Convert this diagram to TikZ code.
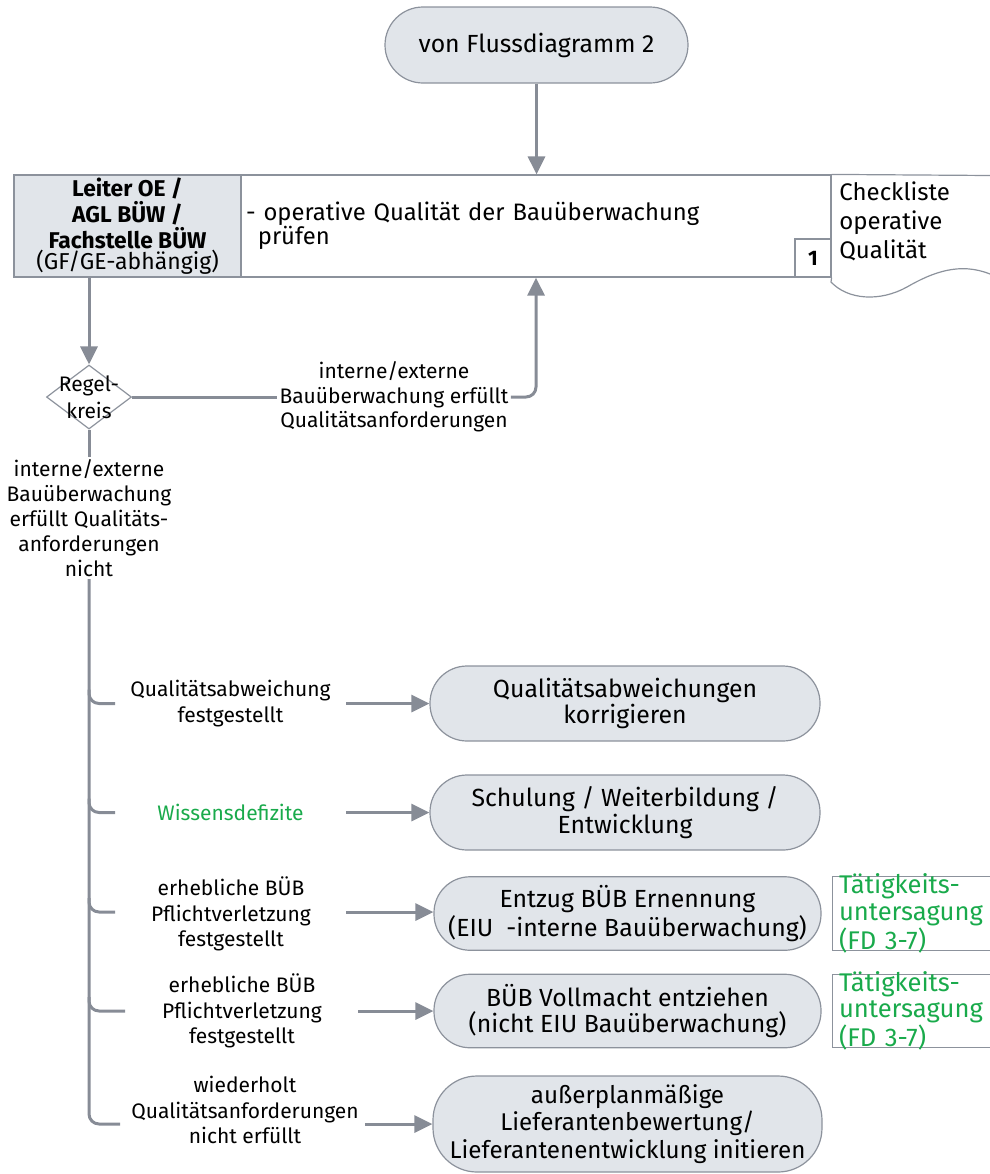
\documentclass[tikz,border=0pt]{standalone}
\usepackage{fontspec}
\setmainfont{Fira Sans}
\usetikzlibrary{arrows.meta,shapes.geometric,calc}
\definecolor{boxfill}{RGB}{225,229,234}
\definecolor{boxline}{RGB}{140,146,156}
\definecolor{conncol}{RGB}{135,140,150}
\definecolor{dbgreen}{RGB}{25,170,75}
\begin{document}
\begin{tikzpicture}[x=0.5pt,y=-0.5pt,
  conn/.style={draw=conncol,line width=1.5pt},
  arr/.style={conn,-{Triangle[length=9pt,width=8.5pt]}},
  pill/.style={draw=boxline,fill=boxfill,line width=0.6pt,align=center,inner sep=2pt},
  boxA/.style={pill,minimum width=195pt,minimum height=37.5pt,rounded corners=18.5pt,font=\fontsize{12.4}{13.2}\selectfont},
  boxB/.style={pill,minimum width=193.5pt,minimum height=36.75pt,rounded corners=18pt,font=\fontsize{12.4}{12.6}\selectfont},
  lbl/.style={align=center,inner sep=1pt,font=\fontsize{10.5}{12.6}\selectfont},
  sidebox/.style={draw=boxline,line width=0.5pt,minimum width=79pt,minimum height=36.75pt,inner sep=0pt},
  sidetext/.style={text width=72pt,align=left,inner sep=0pt,text=dbgreen,font=\fontsize{12.8}{13.3}\selectfont},
  cell/.style={draw=boxline,line width=0.6pt,minimum height=51pt,inner sep=0pt}
]
\useasboundingbox (0,0) rectangle (990,1174);

% start
\node[pill,minimum width=151.5pt,minimum height=38pt,rounded corners=19pt,font=\fontsize{12.4}{14}\selectfont] (start) at (536.5,45) {von Flussdiagramm 2};

% row
\node[cell,fill=boxfill,minimum width=113.5pt,align=center,font=\fontsize{11.4}{10.5}\selectfont] (role) at (127.5,226)
  {\textbf{Leiter OE /}\\\textbf{AGL BÜW /}\\\textbf{Fachstelle BÜW}\\{\fontsize{11.5}{10.5}\selectfont(GF/GE-abhängig)}};
\node[cell,minimum width=295pt,text width=290pt,align=left,font=\fontsize{11.9}{12}\selectfont] (task) at (536,226)
  {- operative Qualität der Bauüberwachung\\\hspace*{0.5em}prüfen};
\node[draw=boxline,line width=0.6pt,minimum width=18pt,minimum height=19pt,inner sep=0pt,font=\bfseries\fontsize{10.5}{12}\selectfont] (num) at (813,258) {1};

% checklist document
\draw[boxline,line width=0.6pt] (task.north east) -- (990,175.5);
\draw[boxline,line width=0.6pt] (task.south east) -- (831,282)
   .. controls (848,300) and (880,302) .. (907,287)
   .. controls (933,272) and (960,262) .. (990,274);
\node[anchor=west,align=left,inner sep=0pt,font=\fontsize{12}{14.5}\selectfont] (chk) at (839,221) {Checkliste\\operative\\Qualität};

\draw[arr] (start.south) -- (start.south |- task.north);

% decision
\node[diamond,draw=boxline,line width=0.6pt,minimum width=42.5pt,minimum height=32pt,inner sep=0pt,
  label={[align=center,inner sep=0pt,font=\fontsize{10.5}{13.5}\selectfont]center:Regel-\\kreis}] (dia) at (89,397) {};
\draw[arr] (dia.north |- role.south) -- (dia.north);

\node[lbl,font=\fontsize{10.5}{12.2}\selectfont] (yes) at (394,397) {interne/externe\\Bauüberwachung erfüllt\\Qualitätsanforderungen};
\draw[conn] (dia.east) -- (dia.east -| yes.west);
\draw[arr,rounded corners=5pt] (yes.east |- dia.east) -| (task.south);

\node[lbl,font=\fontsize{10.5}{12.5}\selectfont] (no) at (89,518) {interne/externe\\Bauüberwachung\\erfüllt Qualitäts-\\anforderungen\\nicht};
\draw[conn] (dia.south) -- (no.north);

% outcome boxes
\node[boxA] (b1) at (625,703.5) {Qualitätsabweichungen\\korrigieren};
\node[boxA] (b2) at (625,812.5) {Schulung / Weiterbildung /\\Entwicklung};
\node[boxB] (b3) at (627.5,913.5) {Entzug BÜB Ernennung\\(EIU\ \ -interne Bauüberwachung)};
\node[boxB] (b4) at (627.5,1011) {BÜB Vollmacht entziehen\\(nicht EIU Bauüberwachung)};
\node[pill,minimum width=194.5pt,minimum height=48pt,rounded corners=22pt,inner sep=0pt,font=\fontsize{12.1}{13.6}\selectfont] (b5) at (627.5,1124)
  {außerplanmäßige\\Lieferantenbewertung/\\Lieferantenentwicklung initieren};

\node[sidebox,label={[sidetext]center:Tätigkeits-\\untersagung\\(FD 3-7)}] (s3) at (911,913.5) {};
\node[sidebox,label={[sidetext]center:Tätigkeits-\\untersagung\\(FD 3-7)}] (s4) at (911,1011) {};

% branch labels
\node[lbl] (l1) at (230.5,703.5) {Qualitätsabweichung\\festgestellt};
\node[lbl,text=dbgreen] (l2) at (230.5,812.5) {Wissensdefizite};
\node[lbl] (l3) at (231,914) {erhebliche BÜB\\Pflichtverletzung\\festgestellt};
\node[lbl] (l4) at (242,1011) {erhebliche BÜB\\Pflichtverletzung\\festgestellt};
\node[lbl] (l5) at (245,1110) {wiederholt\\Qualitätsanforderungen\\nicht erfüllt};

% trunk and stubs
\coordinate (k1) at (115,703.5);
\coordinate (k2) at (115,812.5);
\coordinate (k3) at (115,912);
\coordinate (k4) at (125,1011);
\coordinate (k5) at (120,1124);
\draw[conn,rounded corners=5pt] (no.south) |- (k5);
\foreach \k in {k1,k2,k3,k4}{
  \draw[conn,rounded corners=5pt] ($(\k -| no.south)+(0,-14)$) |- (\k);
}

% arrows
\coordinate (a1) at (346,703.5);
\coordinate (a2) at (346,812.5);
\coordinate (a3) at (346,912);
\coordinate (a4) at (358,1011);
\coordinate (a5) at (365,1124);
\draw[arr] (a1) -- (a1 -| b1.west);
\draw[arr] (a2) -- (a2 -| b2.west);
\draw[arr] (a3) -- (a3 -| b3.west);
\draw[arr] (a4) -- (a4 -| b4.west);
\draw[arr] (a5) -- (a5 -| b5.west);
\end{tikzpicture}
\end{document}
